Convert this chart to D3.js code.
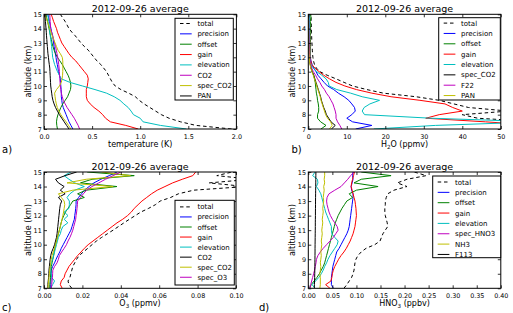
<!DOCTYPE html>
<html><head><meta charset="utf-8">
<script src="https://cdn.jsdelivr.net/npm/d3@7"></script>
<style>body{margin:0;background:#fff}svg{display:block}text{font-family:"DejaVu Sans",sans-serif;fill:#000}</style>
</head><body><svg id="c" width="513" height="313"></svg>
<script>
const altitude = [7,7.25,7.5,7.75,8,8.25,8.5,8.75,9,9.25,9.5,9.75,10,10.25,10.5,10.75,11,11.25,11.5,11.75,12,12.25,12.5,12.75,13,13.25,13.5,13.75,14,14.25,14.5,14.75,15];
const altTicks = [7,8,9,10,11,12,13,14,15];
const titleText = "2012-09-26 average";

// panel a: temperature (K)
const aTicks = [0,0.5,1.0,1.5,2.0];
const aTotal = [1.95,1.58,1.42,1.30,1.22,1.16,1.10,1.04,0.99,0.95,0.88,0.80,0.74,0.71,0.69,0.67,0.65,0.62,0.59,0.55,0.52,0.49,0.46,0.42,0.385,0.355,0.325,0.29,0.26,0.24,0.22,0.195,0.17];
const aPrecision = [0.30,0.28,0.26,0.245,0.23,0.215,0.20,0.19,0.185,0.18,0.18,0.178,0.175,0.172,0.17,0.16,0.15,0.145,0.138,0.13,0.125,0.118,0.112,0.105,0.10,0.095,0.09,0.08,0.072,0.064,0.056,0.048,0.04];
const aOffset = [0.14,0.133,0.13,0.135,0.145,0.16,0.175,0.195,0.22,0.245,0.26,0.275,0.28,0.275,0.265,0.25,0.23,0.21,0.19,0.165,0.14,0.12,0.105,0.093,0.083,0.076,0.068,0.06,0.052,0.045,0.037,0.028,0.02];
const aGain = [0.98,0.85,0.69,0.64,0.61,0.57,0.52,0.48,0.45,0.44,0.44,0.44,0.45,0.455,0.46,0.45,0.42,0.39,0.36,0.33,0.29,0.26,0.235,0.21,0.185,0.17,0.155,0.14,0.13,0.115,0.10,0.088,0.075];
const aElevation = [1.48,1.21,1.03,1.00,0.93,0.905,0.875,0.83,0.79,0.73,0.65,0.53,0.40,0.27,0.18,0.16,0.14,0.125,0.11,0.10,0.09,0.087,0.083,0.079,0.075,0.07,0.065,0.06,0.057,0.053,0.05,0.045,0.04];
const aCO2 = [0.37,0.355,0.335,0.315,0.29,0.265,0.24,0.22,0.20,0.19,0.18,0.175,0.17,0.167,0.165,0.162,0.16,0.157,0.153,0.148,0.143,0.135,0.128,0.12,0.11,0.10,0.09,0.08,0.07,0.067,0.064,0.062,0.06];
const aSpecCO2 = [0.28,0.255,0.23,0.20,0.175,0.155,0.138,0.128,0.12,0.115,0.11,0.13,0.16,0.18,0.188,0.193,0.195,0.196,0.196,0.195,0.19,0.17,0.145,0.13,0.115,0.10,0.085,0.072,0.06,0.048,0.035,0.022,0.01];
const aPAN = [0.26,0.235,0.21,0.185,0.16,0.14,0.12,0.105,0.093,0.085,0.08,0.075,0.07,0.068,0.066,0.064,0.062,0.06,0.055,0.05,0.046,0.041,0.038,0.035,0.032,0.029,0.026,0.024,0.021,0.018,0.015,0.012,0.01];

// panel b: H2O (ppmv)
const bTicks = [0,10,20,30,40,50];
const bTotal = [60,60,60,44,40,52,41.6,37.8,34,28,19.5,15.2,11.5,9.3,7.2,4.9,3.0,2.1,1.6,1.35,1.2,1.1,1.05,1.0,0.95,0.9,0.87,0.83,0.8,0.78,0.75,0.72,0.7];
const bPrecision = [12.3,16.5,11.5,10.0,11.3,12.2,12.0,11.3,10.5,9.3,7.8,6.6,5.0,4.1,3.3,2.5,2.0,1.4,1.0,0.7,0.5,0.4,0.33,0.28,0.25,0.22,0.2,0.18,0.16,0.14,0.12,0.11,0.1];
const bOffset = [3.3,4.6,3.2,2.4,2.4,2.7,2.7,2.6,2.4,2.3,2.1,2.0,1.9,1.8,1.6,1.4,1.0,0.75,0.55,0.5,0.5,0.55,0.5,0.6,0.5,0.6,0.5,0.65,0.5,0.65,0.5,0.7,0.6];
const bGain = [60,60,46,30.5,34,40,37.5,35.5,29,21.5,16.5,12.5,9.5,7.2,5.5,4.0,2.8,1.7,0.9,0.65,0.55,0.5,0.47,0.45,0.42,0.4,0.38,0.36,0.35,0.33,0.32,0.31,0.3];
const bElevation = [17,33,60,32,14.6,14.0,14.5,16,18.5,14,11,7.4,5.4,5.2,4.6,3.5,2.2,1.3,0.7,0.5,0.45,0.43,0.42,0.4,0.38,0.37,0.36,0.35,0.34,0.33,0.32,0.31,0.3];
const bSpecCO2 = [6.0,7.0,5.9,5.3,4.7,4.4,4.0,3.7,3.4,3.2,2.9,2.6,2.3,2.0,1.7,1.4,1.0,0.7,0.5,0.35,0.25,0.2,0.15,0.12,0.1,0.08,0.07,0.06,0.05,0.04,0.03,0.02,0.02];
const bF22 = [8.7,8.2,7.6,7.2,7.2,7.0,6.7,6.4,5.9,5.4,4.7,4.2,3.5,3.0,2.4,1.9,1.3,0.9,0.6,0.45,0.35,0.3,0.25,0.22,0.2,0.18,0.16,0.15,0.14,0.13,0.12,0.11,0.1];
const bPAN = [5.5,6.2,5.8,5.0,4.5,4.2,3.9,3.6,3.3,3.1,2.8,2.5,2.2,1.9,1.6,1.3,0.95,0.65,0.45,0.32,0.24,0.19,0.15,0.12,0.1,0.08,0.07,0.06,0.05,0.04,0.03,0.02,0.02];

// panel c: O3 (ppmv)
const cTicks = [0,0.02,0.04,0.06,0.08,0.10];
const cTotal = [0.0145,0.013,0.0125,0.0135,0.014,0.0145,0.015,0.016,0.017,0.0183,0.0205,0.0228,0.025,0.0273,0.03,0.033,0.036,0.0388,0.0416,0.0445,0.0475,0.0505,0.0545,0.058,0.0605,0.066,0.070,0.078,0.105,0.086,0.108,0.090,0.098];
const cPrecision = [0.0035,0.0035,0.0036,0.0037,0.0037,0.0038,0.0045,0.0055,0.0063,0.0072,0.0082,0.009,0.01,0.011,0.012,0.013,0.014,0.0146,0.0152,0.0158,0.016,0.0163,0.0165,0.0167,0.0167,0.018,0.0195,0.021,0.0235,0.026,0.0296,0.034,0.038];
const cOffset = [0.003,0.003,0.0032,0.0034,0.0035,0.0037,0.0038,0.0042,0.0046,0.005,0.0053,0.0056,0.006,0.0065,0.007,0.0075,0.008,0.0085,0.0089,0.0095,0.0103,0.0112,0.0125,0.0138,0.015,0.021,0.0175,0.022,0.038,0.019,0.025,0.047,0.0225];
const cGain = [0.0095,0.0085,0.009,0.0105,0.011,0.012,0.013,0.0145,0.016,0.0175,0.0193,0.021,0.023,0.0255,0.028,0.0305,0.033,0.0355,0.038,0.041,0.0435,0.0455,0.047,0.049,0.051,0.0535,0.056,0.059,0.063,0.067,0.072,0.0775,0.079];
const cElevation = [0.0035,0.0045,0.0055,0.004,0.0037,0.0035,0.0034,0.0038,0.0045,0.005,0.0055,0.006,0.0065,0.007,0.0075,0.0085,0.009,0.0098,0.0124,0.0105,0.0125,0.0105,0.013,0.0132,0.0132,0.012,0.0135,0.016,0.021,0.016,0.013,0.0105,0.014];
const cCO2 = [0.002,0.002,0.0022,0.0024,0.0025,0.0026,0.0028,0.003,0.0032,0.0035,0.004,0.0048,0.0055,0.006,0.0065,0.0068,0.007,0.0072,0.0074,0.0076,0.0078,0.008,0.0082,0.0085,0.0092,0.0075,0.011,0.0085,0.0105,0.0075,0.006,0.011,0.017];
const cSpecCO2 = [0.002,0.0022,0.0024,0.0026,0.0028,0.003,0.0032,0.0035,0.0038,0.0042,0.0048,0.0055,0.006,0.0065,0.007,0.0075,0.008,0.0085,0.009,0.0094,0.0098,0.0102,0.0105,0.0108,0.0105,0.009,0.0075,0.015,0.036,0.012,0.022,0.045,0.03];
const cSpecO3 = [0.0038,0.004,0.0042,0.0044,0.0045,0.0046,0.0055,0.0068,0.0075,0.008,0.0092,0.0105,0.0117,0.0125,0.0135,0.0143,0.015,0.0155,0.016,0.0165,0.0167,0.017,0.0172,0.0174,0.0175,0.019,0.0205,0.0222,0.025,0.0285,0.032,0.036,0.04];

// panel d: HNO3 (ppbv)
const dTicks = [0,0.05,0.10,0.15,0.20,0.25,0.30,0.35,0.40];
const dTotal = [0.074,0.08,0.085,0.09,0.093,0.095,0.096,0.097,0.099,0.103,0.11,0.12,0.138,0.149,0.152,0.155,0.16,0.165,0.164,0.162,0.16,0.159,0.159,0.16,0.16,0.162,0.165,0.178,0.205,0.185,0.205,0.245,0.22];
const dPrecision = [0.052,0.048,0.048,0.048,0.049,0.05,0.051,0.053,0.055,0.057,0.059,0.064,0.068,0.072,0.076,0.08,0.083,0.085,0.086,0.087,0.088,0.089,0.09,0.091,0.092,0.093,0.093,0.09,0.089,0.091,0.093,0.092,0.093];
const dOffset = [0.003,0.006,0.012,0.018,0.023,0.027,0.031,0.034,0.036,0.038,0.04,0.042,0.044,0.046,0.048,0.05,0.052,0.054,0.056,0.059,0.062,0.066,0.07,0.075,0.08,0.092,0.085,0.1,0.145,0.095,0.11,0.172,0.11];
const dGain = [0.045,0.036,0.047,0.049,0.05,0.052,0.055,0.059,0.063,0.068,0.074,0.079,0.083,0.087,0.09,0.093,0.095,0.097,0.098,0.099,0.1,0.0995,0.099,0.098,0.097,0.095,0.093,0.091,0.089,0.09,0.092,0.094,0.096];
const dElevation = [0.014,0.008,0.015,0.022,0.027,0.031,0.034,0.038,0.041,0.045,0.05,0.055,0.06,0.062,0.055,0.049,0.048,0.048,0.045,0.042,0.039,0.036,0.034,0.032,0.03,0.028,0.026,0.022,0.017,0.02,0.019,0.009,0.014];
const dSpecHNO3 = [0.003,0.005,0.007,0.009,0.011,0.013,0.0145,0.016,0.017,0.02,0.025,0.031,0.038,0.045,0.052,0.057,0.062,0.06,0.055,0.05,0.046,0.043,0.041,0.039,0.038,0.039,0.043,0.055,0.068,0.075,0.082,0.088,0.095];
const dNH3 = [0.024,0.025,0.025,0.025,0.024,0.025,0.026,0.025,0.026,0.027,0.026,0.027,0.028,0.027,0.028,0.029,0.028,0.029,0.03,0.029,0.03,0.031,0.03,0.031,0.032,0.031,0.032,0.033,0.032,0.034,0.033,0.034,0.034];
const dF113 = [0.0125,0.0127,0.013,0.0132,0.0134,0.0135,0.0136,0.0137,0.0138,0.0139,0.014,0.014,0.0141,0.0142,0.0143,0.0144,0.0145,0.0146,0.0146,0.0147,0.0148,0.0148,0.0149,0.015,0.015,0.0151,0.0152,0.0153,0.0154,0.0155,0.0156,0.0157,0.0158];

const C = {k:'#000000', b:'#0000ff', g:'#008000', r:'#ff0000', c:'#00bfbf', m:'#bf00bf', y:'#bfbf00'};

const panels = [
  {frame:{l:44,r:236.4,t:14.3,b:129}, domain:[0,2], ticks:aTicks, fmt:d3.format('.1f'),
   xlabel:['temperature (K)'],
   series:[['total',aTotal,C.k,true],['precision',aPrecision,C.b],['offset',aOffset,C.g],['gain',aGain,C.r],['elevation',aElevation,C.c],['CO2',aCO2,C.m],['spec_CO2',aSpecCO2,C.y],['PAN',aPAN,C.k]],
   legend:{x:175,y:18.3,w:58.3,h:81.7,first:5.2,step:10.35}, tag:{text:'a)',x:2,y:152.5}},
  {frame:{l:308.3,r:500.8,t:14.3,b:129}, domain:[0,50], ticks:bTicks, fmt:d3.format('d'),
   xlabel:['H','2','O (ppmv)'],
   series:[['total',bTotal,C.k,true],['precision',bPrecision,C.b],['offset',bOffset,C.g],['gain',bGain,C.r],['elevation',bElevation,C.c],['spec_CO2',bSpecCO2,C.k],['F22',bF22,C.m],['PAN',bPAN,C.y]],
   legend:{x:438.7,y:17.7,w:61.6,h:82.3,first:5.4,step:10.35}, tag:{text:'b)',x:291.5,y:152.5}},
  {frame:{l:44,r:236.0,t:172,b:288.3}, domain:[0,0.10], ticks:cTicks, fmt:d3.format('.2f'),
   xlabel:['O','3',' (ppmv)'],
   series:[['total',cTotal,C.k,true],['precision',cPrecision,C.b],['offset',cOffset,C.g],['gain',cGain,C.r],['elevation',cElevation,C.c],['CO2',cCO2,C.k],['spec_CO2',cSpecCO2,C.y],['spec_O3',cSpecO3,C.m]],
   legend:{x:175,y:200.3,w:59.3,h:84.7,first:6.6,step:10.05}, tag:{text:'c)',x:2,y:310.5}},
  {frame:{l:308.3,r:500.8,t:172,b:288.3}, domain:[0,0.40], ticks:dTicks, fmt:d3.format('.2f'),
   xlabel:['HNO','3',' (ppbv)'],
   series:[['total',dTotal,C.k,true],['precision',dPrecision,C.b],['offset',dOffset,C.g],['gain',dGain,C.r],['elevation',dElevation,C.c],['spec_HNO3',dSpecHNO3,C.m],['NH3',dNH3,C.y],['F113',dF113,C.k]],
   legend:{x:432.7,y:176,w:68,h:81.7,first:6,step:10.35}, tag:{text:'d)',x:259,y:310.5}}
];

const svg = d3.select('#c');
const TICKF = 6.4, LABF = 8, TITLEF = 9.5, LEGF = 7;

panels.forEach((p, pi) => {
  const f = p.frame;
  const x = d3.scaleLinear().domain(p.domain).range([f.l, f.r]);
  const y = d3.scaleLinear().domain([7, 15]).range([f.b, f.t]);
  const g = svg.append('g');
  const clipId = 'clip' + pi;
  svg.append('clipPath').attr('id', clipId).append('rect')
    .attr('x', f.l).attr('y', f.t).attr('width', f.r - f.l).attr('height', f.b - f.t);

  // lines
  const line = d3.line().x(d => x(d[0])).y(d => y(d[1]));
  const lg = g.append('g').attr('clip-path', `url(#${clipId})`);
  p.series.forEach(s => {
    lg.append('path').datum(d3.zip(s[1], altitude)).attr('d', line)
      .attr('fill', 'none').attr('stroke', s[2]).attr('stroke-width', 1)
      .attr('stroke-dasharray', s[3] ? '3.5,2.8' : null)
      .attr('stroke-linejoin', 'round');
  });

  // axes (ticks inward)
  const bx = g.append('g').attr('transform', `translate(0,${f.b})`)
    .call(d3.axisBottom(x).tickValues(p.ticks).tickFormat(p.fmt).tickSizeInner(-3).tickSizeOuter(0).tickPadding(5.2));
  const tx = g.append('g').attr('transform', `translate(0,${f.t})`)
    .call(d3.axisTop(x).tickValues(p.ticks).tickFormat('').tickSizeInner(-3).tickSizeOuter(0));
  const ly = g.append('g').attr('transform', `translate(${f.l},0)`)
    .call(d3.axisLeft(y).tickValues(altTicks).tickFormat(d3.format('d')).tickSizeInner(-3).tickSizeOuter(0).tickPadding(2.3));
  const ry = g.append('g').attr('transform', `translate(${f.r},0)`)
    .call(d3.axisRight(y).tickValues(altTicks).tickFormat('').tickSizeInner(-3).tickSizeOuter(0));
  [bx, tx, ly, ry].forEach(a => {
    a.select('.domain').remove();
    a.selectAll('line').attr('stroke', '#000').attr('stroke-width', 0.8);
    a.selectAll('text').attr('font-size', TICKF).attr('font-family', '"DejaVu Sans",sans-serif').attr('fill', '#000');
  });

  // frame
  g.append('rect').attr('x', f.l).attr('y', f.t).attr('width', f.r - f.l).attr('height', f.b - f.t)
    .attr('fill', 'none').attr('stroke', '#000').attr('stroke-width', 1);

  // title
  g.append('text').attr('x', (f.l + f.r) / 2).attr('y', f.t - 2.2).attr('text-anchor', 'middle')
    .attr('font-size', TITLEF).text(titleText);

  // x label
  const xl = g.append('text').attr('x', (f.l + f.r) / 2).attr('y', f.b + 17.6).attr('text-anchor', 'middle')
    .attr('font-size', LABF);
  if (p.xlabel.length === 1) xl.text(p.xlabel[0]);
  else {
    xl.append('tspan').text(p.xlabel[0]);
    xl.append('tspan').attr('font-size', LABF * 0.7).attr('dy', 2).text(p.xlabel[1]);
    xl.append('tspan').attr('dy', -2).text(p.xlabel[2]);
  }

  // y label
  g.append('text').attr('transform', `translate(${f.l - 13},${(f.t + f.b) / 2}) rotate(-90)`)
    .attr('text-anchor', 'middle').attr('font-size', LABF).text('altitude (km)');

  // legend
  const L = p.legend;
  const lgd = g.append('g');
  lgd.append('rect').attr('x', L.x).attr('y', L.y).attr('width', L.w).attr('height', L.h)
    .attr('fill', '#fff').attr('stroke', '#000').attr('stroke-width', 1);
  p.series.forEach((s, i) => {
    const yy = L.y + L.first + i * L.step;
    lgd.append('line').attr('x1', L.x + 5).attr('x2', L.x + 16.7).attr('y1', yy).attr('y2', yy)
      .attr('stroke', s[2]).attr('stroke-width', 1).attr('stroke-dasharray', s[3] ? '3.5,2.8' : null);
    lgd.append('text').attr('x', L.x + 22.4).attr('y', yy + 2.5).attr('font-size', LEGF).text(s[0]);
  });

  // panel tag
  svg.append('text').attr('x', p.tag.x).attr('y', p.tag.y).attr('font-size', 10).text(p.tag.text);
});
</script>
</body></html>
